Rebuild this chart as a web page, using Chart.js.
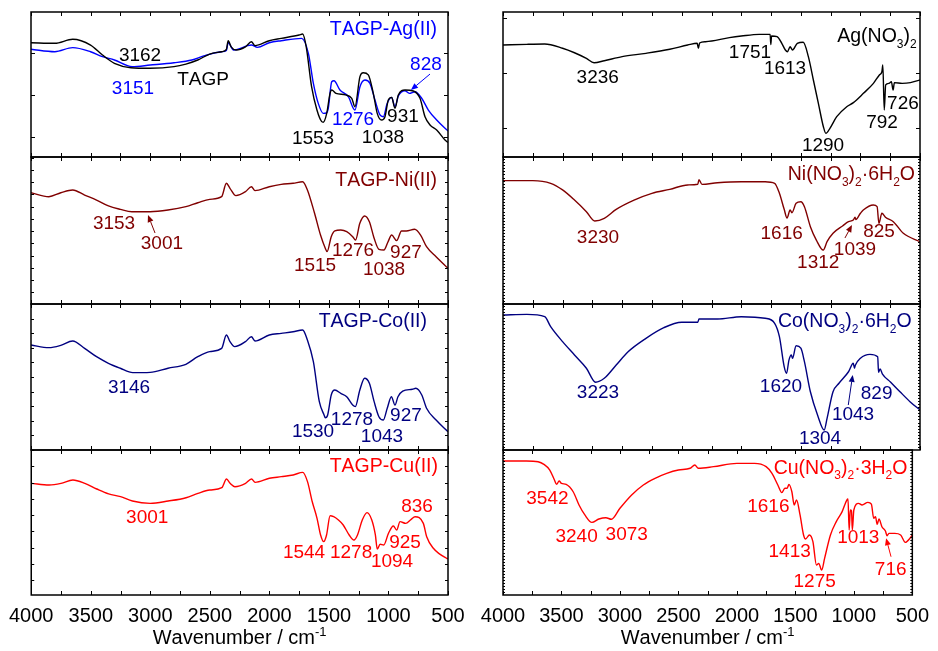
<html>
<head>
<script src="https://cdn.jsdelivr.net/npm/chart.js@4.4.1/dist/chart.umd.min.js"></script>
<style>
body { margin: 0; background: #fff; }
#wrap { position: relative; width: 938px; height: 651px; }
#wrap canvas { position: absolute; left: 0; top: 0; }
</style>
</head>
<body>
<div id="wrap">
	<canvas id="c0" width="938" height="651"></canvas>
	<canvas id="c1" width="938" height="651"></canvas>
	<canvas id="c2" width="938" height="651"></canvas>
	<canvas id="c3" width="938" height="651"></canvas>
	<canvas id="c4" width="938" height="651"></canvas>
	<canvas id="c5" width="938" height="651"></canvas>
	<canvas id="c6" width="938" height="651"></canvas>
	<canvas id="c7" width="938" height="651"></canvas>
</div>

<script>
// x axis
var xTicks = [4000, 3500, 3000, 2500, 2000, 1500, 1000, 500];

// TAGP (black) and TAGP-Ag(II) (blue)
var wnTagp = [4000,3800,3650,3500,3400,3300,3162,3000,2800,2700,2600,2500,2400,2360,2345,2320,2280,2200,2150,2120,2000,1900,1750,1720,1690,1645,1600,1560,1547,1518,1490,1476,1440,1360,1308,1281,1239,1211,1169,1127,1094,1057,1029,1001,973,945,917,861,791,735,693,651,595,525,500];
var tTagp  = [78.8,78.4,81.2,77.2,70.3,64.6,61.6,61.2,62.3,64.1,66.9,71.0,72.6,74.3,80.2,76.0,73.8,76.0,79.5,76.8,80.2,81.8,84.1,84.8,76.0,48.5,32.4,24.4,24.0,30.1,43.9,46.2,43.9,42.8,40.5,34.7,55.4,58.1,56.6,43.9,30.1,25.5,27.8,39.3,41.1,33.6,42.8,46.2,45.5,40.5,27.8,22.1,18.6,11.7,10.0];
var wnAg = [4000,3800,3650,3500,3400,3300,3151,3000,2800,2650,2550,2400,2360,2345,2300,2150,2100,2000,1900,1728,1672,1630,1589,1547,1520,1505,1476,1457,1407,1337,1281,1239,1197,1155,1113,1071,1043,1010,973,945,917,861,825,777,721,665,595,525,500];
var tAg  = [74.3,72.6,75.4,72.6,69.2,66.9,62.3,63.4,65.0,66.9,69.7,72.6,73.5,78.8,73.8,77.2,75.6,78.8,80.2,81.8,71.5,50.8,37.0,30.1,30.5,33.6,51.9,52.6,46.2,41.6,32.4,48.5,53.1,50.8,39.3,29.0,27.8,37.0,41.1,34.7,42.1,45.7,43.9,45.0,40.5,32.4,25.5,19.8,18.0];

// TAGP-Ni(II)
var wnNi = [4000,3850,3750,3650,3550,3450,3350,3250,3153,3000,2850,2700,2600,2500,2400,2360,2330,2280,2200,2150,2120,2000,1900,1800,1720,1680,1620,1570,1530,1515,1480,1450,1400,1350,1300,1276,1240,1200,1160,1120,1080,1038,1005,973,931,890,850,780,730,680,600,500];
var tNi  = [75.7,73.0,75.7,77.6,74.1,70.7,66.7,64.4,62.8,62.8,63.9,66.2,68.9,71.2,73.0,82.1,78.7,73.7,76.4,79.8,77.1,79.8,81.4,82.1,83.2,77.6,61.7,46.9,37.9,35.6,45.8,49.7,50.3,49.2,45.8,43.5,54.9,59.9,56.0,44.7,37.2,36.7,42.0,46.9,43.1,49.7,49.7,50.8,46.9,39.0,32.2,24.3];

// TAGP-Co(II)
var wnCo = [4000,3850,3750,3650,3550,3450,3350,3250,3146,3000,2850,2700,2600,2500,2400,2360,2330,2290,2200,2150,2120,2000,1900,1800,1720,1680,1630,1580,1540,1530,1510,1480,1450,1400,1350,1300,1278,1240,1200,1160,1120,1080,1043,1010,975,945,920,880,800,770,720,680,600,500];
var tCo  = [71.9,70.1,71.7,74.7,69.6,63.9,59.4,56.0,53.0,53.2,56.0,58.7,63.9,67.4,69.6,78.8,74.2,70.8,74.2,77.6,74.7,78.8,79.9,81.0,82.2,75.3,60.5,33.1,24.0,22.1,24.0,37.7,41.1,38.8,36.5,30.8,29.7,41.1,49.1,45.7,33.1,22.8,20.5,28.6,36.5,30.8,36.5,40.4,41.6,42.3,37.7,28.6,20.5,12.5];

// TAGP-Cu(II)
var wnCu = [4000,3850,3750,3650,3550,3450,3350,3250,3150,3001,2850,2700,2600,2500,2400,2360,2330,2290,2200,2150,2120,2000,1900,1800,1720,1680,1640,1600,1570,1544,1520,1490,1460,1420,1380,1330,1290,1260,1220,1180,1140,1110,1094,1070,1040,1000,959,931,903,856,809,777,707,679,623,511,500];
var tCu  = [77.0,75.9,77.0,79.3,77.0,73.1,69.7,67.8,64.8,63.2,64.8,67.1,70.1,72.4,74.0,80.0,77.0,74.7,77.0,80.0,77.7,80.5,81.6,82.8,84.6,78.2,64.3,52.9,41.4,36.8,41.4,54.7,54.0,51.7,48.3,41.4,37.9,41.4,51.7,56.8,51.7,41.4,31.7,35.0,34.5,42.5,47.6,44.8,50.6,49.4,52.2,54.0,49.4,40.2,32.2,25.3,25.0];

// Ag(NO3)2
var wnAgN = [4000,3800,3650,3500,3400,3300,3236,3150,3000,2800,2600,2450,2370,2360,2350,2300,2100,2000,1850,1758,1752,1746,1700,1660,1630,1613,1590,1570,1530,1480,1437,1395,1353,1311,1290,1256,1199,1115,1059,975,891,841,820,812,800,788,760,740,726,715,650,580,500];
var tAgN  = [77.2,77.7,77.9,75.0,71.9,68.0,65.0,66.4,69.2,71.5,74.3,77.2,78.4,75.0,78.6,79.5,82.3,83.4,84.6,84.6,77.5,83.5,83.0,78.4,73.8,72.6,76.0,73.8,78.4,79.1,69.2,53.1,37.0,20.9,16.3,19.8,27.8,34.7,37.5,43.9,50.8,56.6,58.8,63.4,32.4,49.7,50.8,51.9,46.2,51.3,50.8,51.3,53.1];

// Ni(NO3)2.6H2O
var wnNiN = [4000,3750,3600,3500,3400,3300,3230,3150,3050,2900,2750,2600,2450,2365,2355,2330,2200,2000,1800,1720,1680,1640,1616,1590,1575,1540,1500,1470,1420,1370,1312,1280,1230,1150,1100,1060,1045,1039,1000,976,892,860,845,820,790,724,640,500];
var tNiN  = [83.9,83.9,82.1,77.6,70.7,62.8,56.5,58.3,64.4,70.7,75.3,78.0,81.0,81.5,84.5,81.4,82.5,83.2,83.2,82.1,75.3,64.4,58.5,63.9,62.1,68.5,69.6,66.2,52.6,43.5,36.7,42.4,48.1,53.1,56.0,57.1,59.0,57.5,61.7,63.9,67.3,66.2,54.9,61.7,59.0,56.0,48.1,42.4];

// Co(NO3)2.6H2O
var wnCoN = [4000,3800,3650,3600,3500,3400,3300,3223,3150,3050,2950,2800,2650,2500,2400,2365,2355,2200,2000,1800,1720,1680,1640,1620,1600,1580,1570,1540,1500,1470,1420,1360,1304,1280,1230,1180,1100,1060,1050,1043,1000,920,855,848,835,815,746,668,584,500];
var tCoN  = [92.5,92.9,91.3,84.5,74.2,65.1,56.0,46.4,49.1,58.2,67.3,76.5,83.8,87.5,87.5,87.5,89.7,89.7,91.3,90.2,86.8,77.6,57.1,52.5,61.6,65.1,62.8,71.4,69.7,60.5,39.9,24.0,13.7,21.7,39.9,45.7,53.6,59.4,56.0,58.0,62.8,65.5,63.9,53.2,55.5,52.0,46.4,39.9,33.1,27.4];

// Cu(NO3)2.3H2O
var wnCuN = [4000,3800,3700,3650,3600,3560,3542,3520,3500,3460,3400,3350,3300,3240,3180,3120,3073,3000,2900,2800,2700,2600,2500,2400,2360,2330,2200,2000,1850,1750,1700,1650,1616,1590,1570,1555,1530,1510,1490,1460,1430,1413,1380,1350,1320,1300,1275,1250,1200,1150,1100,1060,1050,1040,1030,1020,1013,1000,960,930,880,850,830,815,800,785,760,730,716,700,650,600,560,520,500];
var tCuN  = [92.4,92.4,91.9,90.1,86.2,79.3,76.3,78.6,77.0,76.3,71.2,62.1,55.2,50.1,52.4,53.3,52.2,59.8,69.0,75.9,80.5,83.9,86.2,87.4,89.7,87.4,88.5,90.8,90.8,88.5,83.9,75.9,70.6,73.6,73.6,76.3,71.2,62.1,65.5,55.2,41.4,38.6,41.4,36.8,20.7,21.8,17.2,25.3,41.4,50.6,57.5,65.5,66.2,44.8,58.6,58.0,44.8,58.6,63.2,62.1,63.9,62.6,52.9,54.0,48.7,52.4,47.1,44.1,40.9,42.5,42.5,41.4,36.3,39.1,41.4];

var FONT = '"Liberation Sans", Arial, sans-serif';
var BLACK = '#000000', BLUE = '#0000ff', MAROON = '#800000', NAVY = '#000080', RED = '#ff0000';

function spectrum(wn, t) {
	return wn.map(function(w, i) { return {x: w, y: t[i]}; });
}

// text with _x subscripts and ^{..} superscripts
function richText(ctx, str, x, y, align, size, color) {
	var parts = [], i = 0;
	while (i < str.length) {
		var ch = str[i];
		if (ch === '_') { parts.push({t: str[i+1], k: 'sub'}); i += 2; }
		else if (ch === '^') { var j = str.indexOf('}', i); parts.push({t: str.slice(i+2, j), k: 'sup'}); i = j + 1; }
		else { parts.push({t: ch, k: 'n'}); i++; }
	}
	var small = Math.round(size * 0.63);
	var total = 0;
	parts.forEach(function(p) {
		ctx.font = (p.k === 'n' ? size : small) + 'px ' + FONT;
		p.w = ctx.measureText(p.t).width;
		total += p.w;
	});
	var cx = align === 'right' ? x - total : (align === 'center' ? x - total / 2 : x);
	ctx.fillStyle = color;
	ctx.textAlign = 'left';
	ctx.textBaseline = 'alphabetic';
	var base = y + size * 0.35;
	parts.forEach(function(p) {
		ctx.font = (p.k === 'n' ? size : small) + 'px ' + FONT;
		var dy = p.k === 'sub' ? size * 0.3 : (p.k === 'sup' ? -size * 0.38 : 0);
		ctx.fillText(p.t, cx, base + dy);
		cx += p.w;
	});
}

function arrow(ctx, x1, y1, x2, y2, color) {
	var ang = Math.atan2(y2 - y1, x2 - x1), hl = 7, hw = 3;
	ctx.strokeStyle = color; ctx.fillStyle = color; ctx.lineWidth = 1;
	ctx.beginPath(); ctx.moveTo(x1, y1);
	ctx.lineTo(x2 - hl * Math.cos(ang), y2 - hl * Math.sin(ang)); ctx.stroke();
	ctx.beginPath(); ctx.moveTo(x2, y2);
	ctx.lineTo(x2 - hl * Math.cos(ang) + hw * Math.sin(ang), y2 - hl * Math.sin(ang) - hw * Math.cos(ang));
	ctx.lineTo(x2 - hl * Math.cos(ang) - hw * Math.sin(ang), y2 - hl * Math.sin(ang) + hw * Math.cos(ang));
	ctx.closePath(); ctx.fill();
}

var irDecor = {
	id: 'irDecor',
	afterDraw: function(chart, args, o) {
		var ctx = chart.ctx, a = chart.chartArea, xs = chart.scales.x, ys = chart.scales.y;
		ctx.save();
		ctx.strokeStyle = '#000'; ctx.lineWidth = 1;
		ctx.beginPath();
		for (var w = 500; w <= 4000; w += 250) {
			var px = Math.round(xs.getPixelForValue(w)) + 0.5;
			ctx.moveTo(px, a.top); ctx.lineTo(px, a.top + 4);
			ctx.moveTo(px, a.bottom); ctx.lineTo(px, a.bottom - 4);
		}
		for (var v = o.yTicks.from; v < 100; v += o.yTicks.step) {
			var py = Math.round(ys.getPixelForValue(v)) + 0.5;
			ctx.moveTo(a.left, py); ctx.lineTo(a.left + o.yTicks.len, py);
			ctx.moveTo(a.right, py); ctx.lineTo(a.right - o.yTicks.len, py);
		}
		ctx.stroke();
		ctx.lineWidth = 1.5;
		ctx.strokeRect(a.left, a.top, a.right - a.left, a.bottom - a.top);

		var t = o.title;
		richText(ctx, t.text, xs.getPixelForValue(t.wn), ys.getPixelForValue(t.v), 'right', 19.5, t.color);
		o.labels.forEach(function(l) {
			richText(ctx, l[0], xs.getPixelForValue(l[1]), ys.getPixelForValue(l[2]), 'center', 19, l[3]);
		});
		o.arrows.forEach(function(r) {
			arrow(ctx, xs.getPixelForValue(r[0]), ys.getPixelForValue(r[1]),
				xs.getPixelForValue(r[2]), ys.getPixelForValue(r[3]), r[4]);
		});
		if (o.axisTitle) {
			richText(ctx, 'Wavenumber / cm^{-1}', (a.left + a.right) / 2, a.bottom + 42, 'center', 20, '#000');
		}
		ctx.restore();
	}
};

var panels = [
	{ id: 'c0', area: [31, 12, 448, 157],
	  series: [[wnTagp, tTagp, BLACK], [wnAg, tAg, BLUE]],
	  title: {text: 'TAGP-Ag(II)', wn: 592, v: 89, color: BLUE},
	  labels: [['3162', 3085, 71.0, BLACK], ['3151', 3144, 48.3, BLUE], ['TAGP', 2556, 54.5, BLACK],
	           ['1553', 1633, 13.8, BLACK], ['1276', 1297, 26.9, BLUE], ['1038', 1046, 14.5, BLACK],
	           ['931', 878, 29.0, BLACK], ['828', 685, 64.8, BLUE]],
	  arrows: [[651, 57.2, 811, 46.2, BLUE]],
	  yTicks: {from: 13.8, step: 29, len: 4} },
	{ id: 'c1', area: [31, 157, 448, 304],
	  series: [[wnNi, tNi, MAROON]],
	  title: {text: 'TAGP-Ni(II)', wn: 592, v: 84.8, color: MAROON},
	  labels: [['3153', 3303, 55.4, MAROON], ['3001', 2901, 41.8, MAROON], ['1515', 1616, 27.2, MAROON],
	           ['1276', 1297, 37.4, MAROON], ['1038', 1037, 24.5, MAROON], ['927', 853, 36.1, MAROON]],
	  arrows: [[2959, 48.3, 3018, 60.5, MAROON]],
	  yTicks: {from: 8, step: 8.33, len: 3} },
	{ id: 'c2', area: [31, 304, 448, 450],
	  series: [[wnCo, tCo, NAVY]],
	  title: {text: 'TAGP-Co(II)', wn: 676, v: 89, color: NAVY},
	  labels: [['3146', 3177, 43.4, NAVY], ['1530', 1633, 13.7, NAVY], ['1278', 1306, 21.9, NAVY],
	           ['1043', 1054, 10.3, NAVY], ['927', 853, 24.7, NAVY]],
	  arrows: [],
	  yTicks: {from: 10, step: 10, len: 3} },
	{ id: 'c3', area: [31, 450, 448, 595], bottom: true,
	  series: [[wnCu, tCu, RED]],
	  title: {text: 'TAGP-Cu(II)', wn: 584, v: 89.7, color: RED},
	  labels: [['3001', 3026, 54.0, RED], ['1544', 1709, 29.9, RED], ['1278', 1314, 29.9, RED],
	           ['1094', 970, 24.1, RED], ['925', 861, 36.8, RED], ['836', 760, 62.1, RED]],
	  arrows: [],
	  yTicks: {from: 10.3, step: 11.2, len: 3} },
	{ id: 'c4', area: [503, 12, 920, 157],
	  series: [[wnAgN, tAgN, BLACK]],
	  title: {text: 'Ag(NO_3)_2', wn: 528, v: 84.1, color: BLACK},
	  labels: [['3236', 3205, 55.4, BLACK], ['1751', 1927, 73.2, BLACK], ['1613', 1633, 61.7, BLACK],
	           ['1290', 1314, 9.0, BLACK], ['792', 819, 24.3, BLACK], ['726', 643, 37.6, BLACK]],
	  arrows: [],
	  yTicks: {from: 19.8, step: 38, len: 4} },
	{ id: 'c5', area: [503, 157, 920, 304],
	  series: [[wnNiN, tNiN, MAROON]],
	  title: {text: 'Ni(NO_3)_2\u00b76H_2O', wn: 542, v: 88.9, color: MAROON},
	  labels: [['3230', 3203, 46.3, MAROON], ['1616', 1661, 48.6, MAROON], ['1312', 1354, 28.8, MAROON],
	           ['1039', 1046, 37.9, MAROON], ['825', 844, 49.8, MAROON]],
	  arrows: [[1130, 44.9, 1071, 53.7, MAROON]],
	  yTicks: {from: 2, step: 2.1, len: 2} },
	{ id: 'c6', area: [503, 304, 920, 450],
	  series: [[wnCoN, tCoN, NAVY]],
	  title: {text: 'Co(NO_3)_2\u00b76H_2O', wn: 570, v: 89, color: NAVY},
	  labels: [['3223', 3203, 39.9, NAVY], ['1620', 1667, 44.5, NAVY], ['1304', 1339, 8.6, NAVY],
	           ['1043', 1062, 25.1, NAVY], ['829', 864, 39.7, NAVY]],
	  arrows: [[1102, 30.8, 1065, 51.4, NAVY]],
	  yTicks: {from: 2, step: 2.1, len: 2} },
	{ id: 'c7', area: [503, 450, 920, 595], bottom: true,
	  series: [[wnCuN, tCuN, RED]],
	  title: {text: 'Cu(NO_3)_2\u00b73H_2O', wn: 542, v: 88.5, color: RED},
	  labels: [['3542', 3620, 67.2, RED], ['3240', 3371, 41.4, RED], ['3073', 2942, 42.6, RED],
	           ['1616', 1731, 62.1, RED], ['1413', 1549, 31.0, RED], ['1275', 1335, 10.3, RED],
	           ['1013', 962, 40.2, RED], ['716', 685, 18.4, RED]],
	  arrows: [[682, 26.4, 724, 39.1, RED]],
	  yTicks: {from: 2, step: 2.1, len: 2} }
];

panels.forEach(function(p) {
	var AXIS_H = 56;
	new Chart(document.getElementById(p.id), {
		type: 'line',
		data: {
			datasets: p.series.map(function(s) {
				return { data: spectrum(s[0], s[1]), borderColor: s[2], borderWidth: 1.4,
				         pointRadius: 0, fill: false, cubicInterpolationMode: 'monotone' };
			})
		},
		options: {
			responsive: false,
			animation: false,
			layout: { padding: { left: p.area[0], top: p.area[1], right: 938 - p.area[2],
			                     bottom: p.bottom ? 651 - p.area[3] - AXIS_H : 651 - p.area[3] } },
			scales: {
				x: { type: 'linear', min: 500, max: 4000, reverse: true, display: !!p.bottom,
				     grid: { display: false, drawTicks: false }, border: { display: false },
				     afterBuildTicks: function(s) { s.ticks = xTicks.map(function(v) { return {value: v}; }); },
				     ticks: { padding: 9, color: '#000', autoSkip: false, maxRotation: 0,
				              font: { family: FONT, size: 20 },
				              callback: function(v) { return String(v); } },
				     afterFit: function(s) { if (p.bottom) s.height = AXIS_H; } },
				y: { min: 0, max: 100, display: false }
			},
			plugins: {
				legend: { display: false },
				tooltip: { enabled: false },
				irDecor: { title: p.title, labels: p.labels, arrows: p.arrows, yTicks: p.yTicks, axisTitle: !!p.bottom }
			}
		},
		plugins: [irDecor]
	});
});
</script>
</body>
</html>
